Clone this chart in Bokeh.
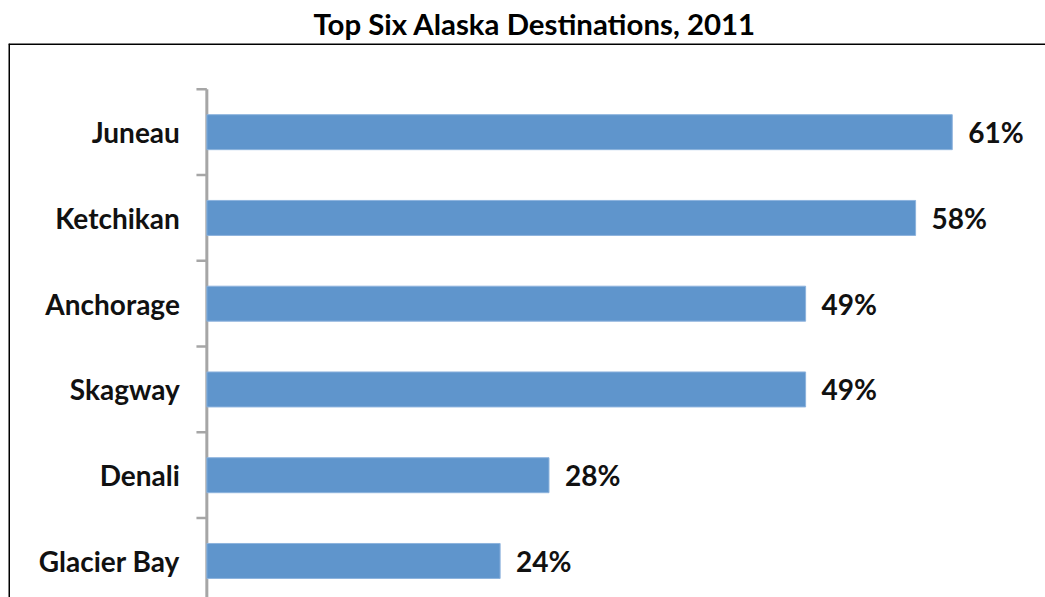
from bokeh.plotting import figure
from bokeh.models import Range1d, Span, ColumnDataSource
from bokeh.core.properties import value
from bokeh.embed import file_html
from bokeh.resources import INLINE

# ---- data ----
destinations = ["Juneau", "Ketchikan", "Anchorage", "Skagway", "Denali", "Glacier Bay"]
shares = [61, 58, 49, 49, 28, 24]
share_labels = ["61%", "58%", "49%", "49%", "28%", "24%"]
title_text = "Top Six Alaska Destinations, 2011"

idx = list(range(len(destinations)))
src = ColumnDataSource(dict(y=idx, v=shares, name=destinations, lab=share_labels))

FONT = value("Lato")
BLUE = "#5F95CC"
X0, X1 = -16.23, 68.63
Y_BOTTOM, Y_TOP = 5.426, -1.034

p = figure(width=1045, height=597, output_backend="svg", toolbar_location=None,
           x_range=Range1d(X0, X1), y_range=Range1d(Y_BOTTOM, Y_TOP),
           min_border_left=8, min_border_right=0, min_border_bottom=0, min_border_top=0)
p.xaxis.visible = False
p.yaxis.visible = False
p.xgrid.visible = False
p.ygrid.visible = False
p.outline_line_color = None
p.background_fill_color = "white"
p.border_fill_color = "white"

p.title.text = title_text
p.title.align = "left"
p.title.offset = 305
p.title.text_font = "Lato"
p.title.text_font_size = "29.4px"
p.title.text_font_style = "bold"
p.title.text_color = "#000000"
p.title.standoff = 6

# box border (top and left edges)
p.add_layout(Span(location=Y_TOP, dimension="width", line_color="black", line_width=3))
p.add_layout(Span(location=X0, dimension="height", line_color="black", line_width=3))

# category axis line and boundary ticks
n = len(destinations)
p.segment(x0=[0], y0=[-0.5], x1=[0], y1=[n + 0.5], line_color="#A6A6A6", line_width=3)
bounds = [i - 0.5 for i in range(n + 1)]
p.segment(x0=[-0.85] * len(bounds), y0=bounds, x1=[0] * len(bounds), y1=bounds,
          line_color="#A6A6A6", line_width=2.5)

# bars
p.hbar(y="y", left=0, right="v", height=0.408, source=src, fill_color=BLUE,
       line_color="#8DB3DD", line_width=1)

# category labels
p.text(x=0, y="y", text="name", source=src, x_offset=-27, text_align="right",
       text_baseline="middle", text_font=FONT, text_font_style="bold",
       text_font_size="28px", text_color="#111111")

# value labels
p.text(x="v", y="y", text="lab", source=src, x_offset=16, text_align="left",
       text_baseline="middle", text_font=FONT, text_font_style="bold",
       text_font_size="28px", text_color="#111111")

open("out.html", "w").write(file_html(p, INLINE))
